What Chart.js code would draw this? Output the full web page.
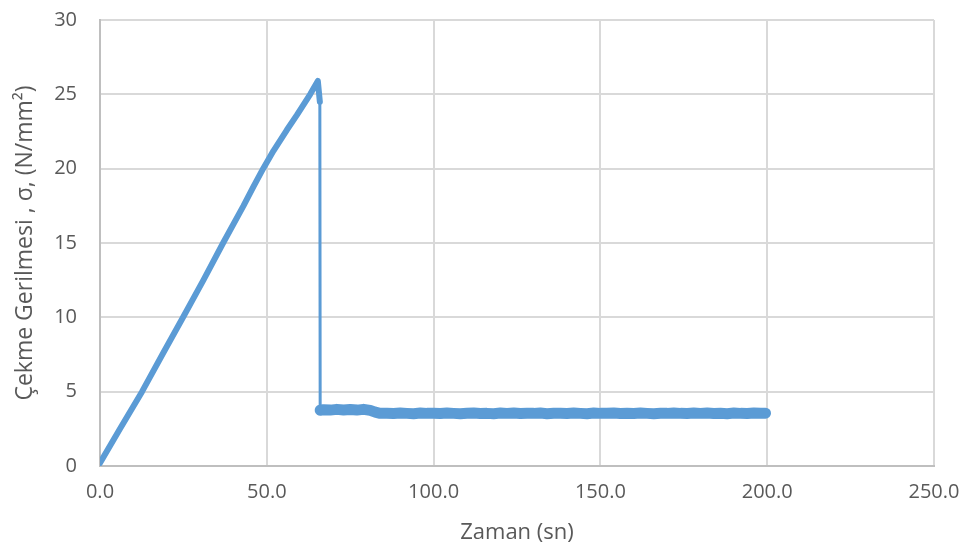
<!DOCTYPE html>
<html>
<head>
<meta charset="utf-8">
<script src="https://cdn.jsdelivr.net/npm/chart.js@4.4.1/dist/chart.umd.min.js"></script>
<style>
html,body{margin:0;padding:0;background:#fff;}
#wrap{width:968px;height:548px;position:relative;}
</style>
</head>
<body>
<div id="wrap"><canvas id="c" width="968" height="548"></canvas></div>
<script>
// Time (s) and tensile stress (N/mm²)
const timeSec = [
  0, 6, 12.6, 18.7, 24.9, 31, 36.9, 43, 46, 48.9, 52, 56, 59, 63, 65.3, 65.9, 66.0,
  67, 69, 71, 73, 75, 77, 79, 81, 82.5, 84, 86, 88, 90, 92, 94, 96, 98,
  100, 102, 104, 106, 108, 110, 112, 114, 116, 118, 120, 122, 124, 126, 128,
  130, 132, 134, 136, 138, 140, 142, 144, 146, 148, 150, 152, 154, 156, 158,
  160, 162, 164, 166, 168, 170, 172, 174, 176, 178, 180, 182, 184, 186, 188,
  190, 192, 194, 196, 198, 199.5
];
const stress = [
  0.2, 2.5, 5.0, 7.5, 10.0, 12.5, 15.0, 17.5, 18.8, 20.0, 21.2, 22.6, 23.6, 25.0, 25.9, 24.5, 3.75,
  3.79, 3.76, 3.81, 3.77, 3.80, 3.76, 3.81, 3.74, 3.62, 3.54, 3.55, 3.53, 3.56, 3.54, 3.52, 3.56, 3.54,
  3.55, 3.53, 3.56, 3.54, 3.52, 3.55, 3.57, 3.53, 3.54, 3.52, 3.56, 3.54, 3.57, 3.53, 3.55,
  3.54, 3.56, 3.52, 3.55, 3.54, 3.53, 3.56, 3.54, 3.52, 3.56, 3.54, 3.55, 3.57, 3.53, 3.54,
  3.53, 3.56, 3.54, 3.52, 3.55, 3.54, 3.56, 3.54, 3.53, 3.56, 3.54, 3.57, 3.53, 3.55, 3.52,
  3.56, 3.54, 3.53, 3.57, 3.55, 3.55
];
const xTicks = [0, 50, 100, 150, 200, 250];
const yTicks = [0, 5, 10, 15, 20, 25, 30];

const points = timeSec.map((t, i) => ({x: t, y: stress[i]}));
const FONT = "'Open Sans', 'Liberation Sans', sans-serif";
const TXT = '#595959';

new Chart(document.getElementById('c'), {
  type: 'line',
  data: {
    datasets: [{
      data: points,
      borderColor: '#5b9bd5',
      borderWidth: 5,
      pointRadius: 0,
      tension: 0,
      fill: false,
      borderJoinStyle: 'round',
      borderCapStyle: 'round',
      segment: {
        borderWidth: ctx => (ctx.p0.parsed.x >= 66 ? 11 : (ctx.p0.parsed.x >= 65.8 ? 3 : 6))
      }
    }]
  },
  options: {
    responsive: false,
    animation: false,
    devicePixelRatio: 1,
    layout: {padding: {left: 0, right: 34, top: 20, bottom: 0}},
    plugins: {legend: {display: false}, tooltip: {enabled: false}},
    scales: {
      x: {
        type: 'linear',
        min: 0, max: 250,
        afterBuildTicks: s => { s.ticks = xTicks.map(v => ({value: v})); },
        afterFit: s => { s.height = 82; s.paddingLeft = 0; s.paddingRight = 0; },
        ticks: {
          callback: v => Number(v).toFixed(1),
          color: TXT,
          font: {family: FONT, size: 20},
          padding: 14,
          maxRotation: 0
        },
        grid: {color: '#d9d9d9', lineWidth: 2, drawTicks: false},
        border: {color: '#bfbfbf', width: 2},
        title: {
          display: true, text: 'Zaman (sn)', color: TXT,
          font: {family: FONT, size: 22},
          padding: {top: 0, bottom: 2}
        }
      },
      y: {
        min: 0, max: 30,
        afterBuildTicks: s => { s.ticks = yTicks.map(v => ({value: v})); },
        afterFit: s => { s.width = 100; s.paddingTop = 0; s.paddingBottom = 0; },
        ticks: {
          color: TXT,
          font: {family: FONT, size: 20},
          padding: 23
        },
        grid: {color: '#d9d9d9', lineWidth: 2, drawTicks: false},
        border: {color: '#bfbfbf', width: 2},
        title: {
          display: true, text: 'Çekme Gerilmesi , σ, (N/mm²)', color: TXT,
          font: {family: FONT, size: 23},
          padding: {top: 12, bottom: 0}
        }
      }
    }
  }
});
</script>
</body>
</html>
